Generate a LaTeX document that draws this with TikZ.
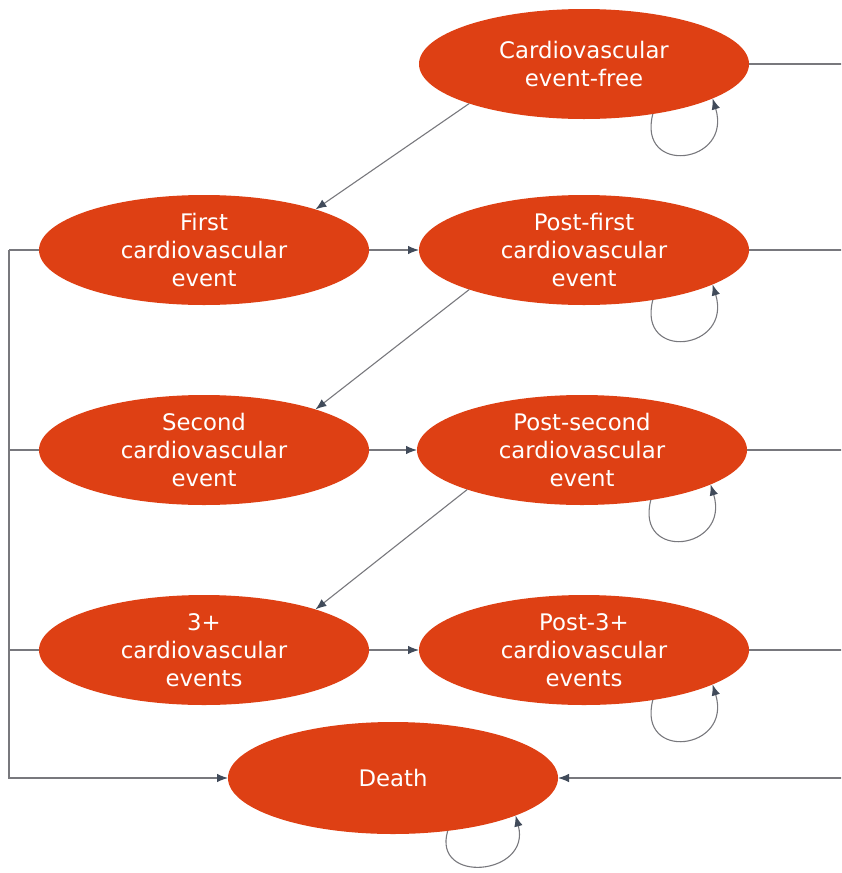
\documentclass[tikz,border=0pt]{standalone}
\usepackage{fontspec}
\setmainfont{DejaVu Sans}
\usetikzlibrary{shapes.geometric,arrows.meta}
\definecolor{stfill}{RGB}{222,64,20}
\definecolor{linecol}{RGB}{120,120,125}
\definecolor{tipcol}{RGB}{65,75,90}
\tikzset{
  state/.style={ellipse, fill=stfill, draw=none, text=white, align=center,
    minimum width=330pt, minimum height=110pt, inner sep=0pt, outer sep=0pt,
    font=\fontsize{22.8}{28}\selectfont},
  conn/.style={draw=linecol, line width=1.1pt},
  arr/.style={conn, -{Latex[length=11pt,width=8.5pt,fill=tipcol,color=tipcol]}},
  selfloop/.style={arr}
}
\begin{document}
\begin{tikzpicture}[x=1pt,y=-1pt]
\useasboundingbox (0,0) rectangle (841,873);
\clip (0,0) rectangle (841,873);
\node[state] (ef) at (584,64) {Cardiovascular\\event-free};
\node[state] (first) at (204,250) {First\\cardiovascular\\event};
\node[state] (pf) at (584,250) {Post-first\\cardiovascular\\event};
\node[state] (second) at (204,450) {Second\\cardiovascular\\event};
\node[state] (ps) at (582,450) {Post-second\\cardiovascular\\event};
\node[state] (third) at (204,650) {3+\\cardiovascular\\events};
\node[state] (pt) at (584,650) {Post-3+\\cardiovascular\\events};
\node[state, minimum height=112pt] (death) at (393,778) {Death};

\coordinate (L1) at (9,250);
\coordinate (L2) at (9,450);
\coordinate (L3) at (9,650);
\coordinate (L4) at (9,778);
\coordinate (R0) at (846,64);
\coordinate (R1) at (846,250);
\coordinate (R2) at (846,450);
\coordinate (R3) at (846,650);
\coordinate (R4) at (846,778);

% diagonal transitions
\draw[arr] (ef.199) -- (first.20);
\draw[arr] (pf.199) -- (second.20);
\draw[arr] (ps.199) -- (third.20);
% horizontal transitions
\draw[arr] (first.east) -- (pf.west);
\draw[arr] (second.east) -- (ps.west);
\draw[arr] (third.east) -- (pt.west);
% left bus to death
\draw[conn] (first.west) -- (L1);
\draw[conn] (second.west) -- (L2);
\draw[conn] (third.west) -- (L3);
\draw[arr] (L1) -- (L4) -- (death.west);
% right bus to death
\draw[conn] (ef.east) -- (R0);
\draw[conn] (pf.east) -- (R1);
\draw[conn] (ps.east) -- (R2);
\draw[conn] (pt.east) -- (R3);
\draw[arr] (R0) -- (R4) -- (death.east);
% self loops
\foreach \n in {ef,pf,ps,pt}{
  \draw[selfloop] (\n.-36) .. controls +(-16,62) and +(20,66) .. (\n.-15);
}
\draw[selfloop] (death.-44) .. controls +(-16,54) and +(16,60) .. (death.-17);
\end{tikzpicture}
\end{document}
